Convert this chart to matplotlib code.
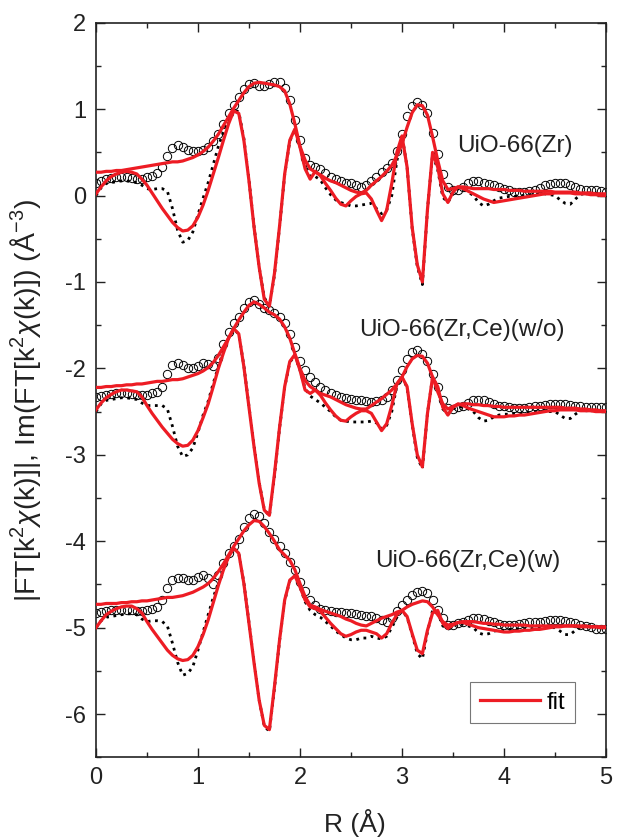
import numpy as np
import matplotlib
matplotlib.use('Agg')
import matplotlib.pyplot as plt
from matplotlib.ticker import MultipleLocator

plt.rcParams['font.family'] = ['Liberation Sans', 'DejaVu Sans']
plt.rcParams['mathtext.fontset'] = 'custom'
plt.rcParams['mathtext.rm'] = 'Liberation Sans'
plt.rcParams['mathtext.it'] = 'Liberation Sans:italic'
plt.rcParams['axes.unicode_minus'] = False

# R grid (Angstrom), 0.05 step
r = np.round(np.arange(101) * 0.05, 2)

sample_names = ['UiO-66(Zr)', 'UiO-66(Zr,Ce)(w/o)', 'UiO-66(Zr,Ce)(w)']
offsets = [0.0, -2.5, -5.0]

# ---------------- UiO-66(Zr) ----------------
zr_mag_data = [
    0.15, 0.17, 0.19, 0.20, 0.21, 0.21, 0.21, 0.20, 0.19, 0.19,
    0.21, 0.23, 0.26, 0.33, 0.46, 0.55, 0.58, 0.56, 0.53, 0.52,
    0.52, 0.53, 0.56, 0.63, 0.71, 0.83, 0.95, 1.05, 1.14, 1.23,
    1.29, 1.30, 1.27, 1.27, 1.29, 1.31, 1.31, 1.25, 1.10, 0.87,
    0.64, 0.44, 0.35, 0.33, 0.31, 0.26, 0.22, 0.19, 0.17, 0.15,
    0.14, 0.12, 0.10, 0.12, 0.17, 0.22, 0.27, 0.32, 0.38, 0.52,
    0.71, 0.92, 1.04, 1.08, 1.05, 0.95, 0.72, 0.48, 0.25, 0.10,
    0.06, 0.07, 0.10, 0.14, 0.17, 0.17, 0.15, 0.13, 0.12, 0.10,
    0.08, 0.06, 0.04, 0.04, 0.04, 0.05, 0.06, 0.09, 0.12, 0.13,
    0.14, 0.14, 0.14, 0.12, 0.10, 0.08, 0.06, 0.06, 0.06, 0.05,
    0.04]
zr_mag_fit = [
    0.27, 0.27, 0.28, 0.28, 0.29, 0.29, 0.30, 0.31, 0.32, 0.33,
    0.34, 0.35, 0.36, 0.37, 0.38, 0.39, 0.39, 0.40, 0.42, 0.44,
    0.47, 0.51, 0.56, 0.63, 0.71, 0.81, 0.91, 1.01, 1.10, 1.19,
    1.26, 1.30, 1.31, 1.30, 1.29, 1.28, 1.26, 1.21, 1.06, 0.83,
    0.57, 0.41, 0.31, 0.27, 0.24, 0.20, 0.17, 0.15, 0.12, 0.09,
    0.06, 0.04, 0.03, 0.06, 0.12, 0.17, 0.22, 0.28, 0.35, 0.46,
    0.60, 0.79, 0.96, 1.05, 1.04, 0.93, 0.68, 0.41, 0.17, 0.07,
    0.08, 0.10, 0.10, 0.09, 0.08, 0.08, 0.08, 0.08, 0.07, 0.07,
    0.07, 0.06, 0.06, 0.06, 0.05, 0.05, 0.05, 0.05, 0.05, 0.05,
    0.04, 0.04, 0.04, 0.04, 0.04, 0.03, 0.03, 0.03, 0.02, 0.02,
    0.02]
zr_im_data = [
    0.00, 0.09, 0.14, 0.15, 0.16, 0.17, 0.17, 0.16, 0.15, 0.12,
    0.08, 0.07, 0.08, 0.08, 0.05, -0.15, -0.40, -0.54, -0.52, -0.42,
    -0.22, -0.03, 0.15, 0.36, 0.57, 0.74, 0.88, 0.99, 0.97, 0.66,
    0.18, -0.36, -0.83, -1.18, -1.28, -0.92, -0.36, 0.24, 0.63, 0.76,
    0.57, 0.33, 0.22, 0.22, 0.18, 0.09, 0.01, -0.05, -0.08, -0.10,
    -0.12, -0.12, -0.11, -0.10, -0.09, -0.15, -0.21, -0.17, 0.00, 0.40,
    0.70, 0.33, -0.38, -0.82, -1.03, -0.16, 0.48, 0.30, -0.02, -0.08,
    0.02, 0.08, 0.07, 0.04, 0.00, -0.08, -0.12, -0.10, -0.06, -0.03,
    -0.02, -0.01, -0.01, 0.00, 0.00, 0.01, 0.02, 0.02, 0.02, 0.01,
    0.00, -0.05, -0.09, -0.10, -0.04, 0.01, 0.03, 0.03, 0.03, 0.01,
    0.00]
zr_im_fit = [
    0.02, 0.10, 0.17, 0.22, 0.25, 0.27, 0.28, 0.27, 0.25, 0.19,
    0.12, 0.03, -0.06, -0.15, -0.23, -0.31, -0.37, -0.41, -0.40, -0.35,
    -0.25, -0.11, 0.06, 0.25, 0.44, 0.64, 0.83, 0.98, 0.95, 0.64,
    0.17, -0.37, -0.83, -1.20, -1.28, -0.90, -0.35, 0.25, 0.64, 0.77,
    0.56, 0.31, 0.19, 0.28, 0.23, 0.14, 0.06, -0.03, -0.10, -0.12,
    -0.06, -0.01, 0.02, 0.03, -0.04, -0.17, -0.29, -0.17, 0.14, 0.50,
    0.69, 0.33, -0.37, -0.80, -1.00, -0.16, 0.50, 0.33, 0.02, -0.08,
    0.04, 0.10, 0.08, 0.05, 0.02, -0.01, -0.04, -0.06, -0.08, -0.07,
    -0.06, -0.05, -0.04, -0.03, -0.02, -0.01, 0.00, 0.01, 0.02, 0.02,
    0.03, 0.03, 0.03, 0.03, 0.02, 0.02, 0.02, 0.01, 0.01, 0.00,
    0.00]

# ---------------- UiO-66(Zr,Ce)(w/o) ----------------
wo_mag_data = [
    0.17, 0.18, 0.19, 0.20, 0.21, 0.21, 0.21, 0.20, 0.19, 0.19,
    0.19, 0.21, 0.23, 0.29, 0.44, 0.54, 0.56, 0.54, 0.51, 0.51,
    0.53, 0.56, 0.55, 0.53, 0.62, 0.78, 0.92, 1.02, 1.10, 1.20,
    1.27, 1.29, 1.24, 1.20, 1.17, 1.14, 1.10, 1.02, 0.90, 0.75,
    0.59, 0.48, 0.40, 0.34, 0.29, 0.25, 0.21, 0.19, 0.17, 0.16,
    0.15, 0.14, 0.13, 0.12, 0.11, 0.12, 0.13, 0.17, 0.25, 0.36,
    0.48, 0.61, 0.69, 0.71, 0.67, 0.58, 0.44, 0.29, 0.13, 0.04,
    0.03, 0.05, 0.07, 0.10, 0.13, 0.14, 0.13, 0.11, 0.09, 0.07,
    0.06, 0.05, 0.04, 0.04, 0.04, 0.05, 0.06, 0.07, 0.08, 0.09,
    0.09, 0.09, 0.09, 0.08, 0.07, 0.06, 0.05, 0.05, 0.05, 0.05,
    0.05]
wo_mag_fit = [
    0.28, 0.28, 0.29, 0.29, 0.30, 0.30, 0.31, 0.31, 0.32, 0.32,
    0.33, 0.34, 0.35, 0.35, 0.36, 0.37, 0.37, 0.38, 0.40, 0.42,
    0.44, 0.47, 0.51, 0.57, 0.65, 0.75, 0.85, 0.96, 1.06, 1.15,
    1.23, 1.27, 1.24, 1.20, 1.15, 1.12, 1.07, 0.98, 0.85, 0.67,
    0.50, 0.36, 0.29, 0.25, 0.21, 0.19, 0.17, 0.14, 0.11, 0.08,
    0.06, 0.04, 0.03, 0.03, 0.07, 0.11, 0.15, 0.20, 0.25, 0.32,
    0.40, 0.52, 0.61, 0.65, 0.64, 0.56, 0.40, 0.23, 0.09, 0.03,
    0.06, 0.08, 0.09, 0.09, 0.08, 0.08, 0.07, 0.07, 0.06, 0.06,
    0.05, 0.05, 0.05, 0.05, 0.05, 0.05, 0.05, 0.05, 0.05, 0.05,
    0.05, 0.05, 0.04, 0.04, 0.04, 0.03, 0.03, 0.02, 0.02, 0.01,
    0.01]
wo_im_data = [
    0.00, 0.09, 0.13, 0.14, 0.15, 0.16, 0.16, 0.15, 0.14, 0.10,
    0.07, 0.07, 0.07, 0.07, 0.03, -0.17, -0.40, -0.52, -0.50, -0.42,
    -0.24, -0.04, 0.12, 0.33, 0.52, 0.71, 0.85, 0.95, 0.90, 0.53,
    0.06, -0.40, -0.82, -1.13, -1.21, -0.74, -0.19, 0.28, 0.57, 0.65,
    0.48, 0.27, 0.18, 0.14, 0.10, 0.05, 0.00, -0.06, -0.10, -0.11,
    -0.12, -0.12, -0.12, -0.12, -0.11, -0.13, -0.20, -0.16, 0.00, 0.30,
    0.40, 0.28, -0.15, -0.53, -0.66, -0.02, 0.40, 0.28, 0.03, -0.03,
    0.03, 0.06, 0.05, 0.03, 0.00, -0.07, -0.11, -0.10, -0.06, -0.04,
    -0.03, -0.03, -0.02, -0.02, -0.02, -0.01, 0.00, 0.00, 0.00, 0.00,
    0.00, -0.04, -0.08, -0.08, -0.03, 0.01, 0.02, 0.02, 0.01, 0.00,
    0.00]
wo_im_fit = [
    0.02, 0.10, 0.16, 0.20, 0.23, 0.25, 0.25, 0.24, 0.23, 0.17,
    0.07, -0.02, -0.10, -0.18, -0.25, -0.32, -0.37, -0.40, -0.39, -0.33,
    -0.22, -0.07, 0.09, 0.29, 0.50, 0.68, 0.85, 0.96, 0.90, 0.52,
    0.05, -0.41, -0.83, -1.14, -1.20, -0.72, -0.18, 0.29, 0.58, 0.66,
    0.48, 0.25, 0.21, 0.25, 0.19, 0.10, 0.02, -0.05, -0.10, -0.11,
    -0.06, -0.02, 0.01, 0.01, -0.02, -0.12, -0.22, -0.14, 0.07, 0.32,
    0.40, 0.29, -0.14, -0.50, -0.64, -0.02, 0.40, 0.29, 0.05, -0.04,
    0.05, 0.09, 0.07, 0.04, 0.02, 0.00, -0.02, -0.04, -0.06, -0.06,
    -0.06, -0.05, -0.05, -0.04, -0.04, -0.03, -0.02, -0.01, 0.00, 0.01,
    0.01, 0.02, 0.02, 0.02, 0.02, 0.01, 0.01, 0.01, 0.00, 0.00,
    0.00]

# ---------------- UiO-66(Zr,Ce)(w) ----------------
w_mag_data = [
    0.17, 0.18, 0.19, 0.20, 0.20, 0.21, 0.21, 0.20, 0.19, 0.19,
    0.20, 0.22, 0.24, 0.32, 0.46, 0.55, 0.58, 0.57, 0.55, 0.55,
    0.59, 0.61, 0.57, 0.51, 0.61, 0.75, 0.86, 0.94, 1.03, 1.17,
    1.27, 1.31, 1.29, 1.21, 1.11, 1.03, 0.94, 0.86, 0.76, 0.67,
    0.53, 0.42, 0.32, 0.26, 0.22, 0.20, 0.19, 0.18, 0.18, 0.17,
    0.17, 0.16, 0.15, 0.14, 0.13, 0.11, 0.09, 0.06, 0.11, 0.19,
    0.26, 0.32, 0.38, 0.41, 0.42, 0.40, 0.32, 0.20, 0.11, 0.03,
    0.03, 0.05, 0.07, 0.09, 0.11, 0.11, 0.10, 0.08, 0.06, 0.04,
    0.03, 0.03, 0.03, 0.04, 0.05, 0.06, 0.07, 0.07, 0.08, 0.09,
    0.09, 0.09, 0.08, 0.07, 0.05, 0.03, 0.02, 0.01, -0.01, -0.01,
    -0.01]
w_mag_fit = [
    0.27, 0.27, 0.28, 0.28, 0.28, 0.29, 0.29, 0.30, 0.30, 0.31,
    0.31, 0.32, 0.33, 0.34, 0.35, 0.35, 0.36, 0.37, 0.39, 0.41,
    0.44, 0.47, 0.51, 0.57, 0.65, 0.74, 0.84, 0.94, 1.03, 1.12,
    1.19, 1.24, 1.23, 1.17, 1.09, 1.00, 0.90, 0.84, 0.78, 0.67,
    0.51, 0.36, 0.26, 0.24, 0.21, 0.19, 0.17, 0.15, 0.13, 0.10,
    0.08, 0.05, 0.03, 0.02, 0.05, 0.08, 0.11, 0.13, 0.15, 0.18,
    0.20, 0.24, 0.27, 0.29, 0.31, 0.30, 0.24, 0.15, 0.07, 0.03,
    0.04, 0.06, 0.07, 0.07, 0.07, 0.06, 0.05, 0.05, 0.04, 0.04,
    0.03, 0.03, 0.03, 0.03, 0.03, 0.02, 0.02, 0.02, 0.02, 0.02,
    0.02, 0.02, 0.02, 0.02, 0.02, 0.01, 0.01, 0.01, 0.01, 0.01,
    0.01]
w_im_data = [
    0.00, 0.08, 0.12, 0.13, 0.14, 0.15, 0.16, 0.16, 0.15, 0.10,
    0.07, 0.08, 0.08, 0.07, 0.02, -0.18, -0.40, -0.55, -0.53, -0.45,
    -0.26, -0.05, 0.15, 0.35, 0.52, 0.68, 0.82, 0.92, 0.86, 0.52,
    0.06, -0.40, -0.84, -1.14, -1.20, -0.70, -0.15, 0.31, 0.54, 0.60,
    0.47, 0.30, 0.20, 0.15, 0.12, 0.07, 0.02, -0.04, -0.08, -0.12,
    -0.14, -0.14, -0.12, -0.12, -0.10, -0.12, -0.13, -0.10, 0.00, 0.12,
    0.20, 0.12, -0.08, -0.30, -0.36, -0.05, 0.20, 0.18, 0.02, -0.02,
    0.02, 0.05, 0.04, 0.02, 0.00, -0.06, -0.08, -0.07, -0.04, -0.03,
    -0.03, -0.02, -0.02, -0.02, -0.02, -0.01, -0.01, 0.00, 0.00, 0.00,
    0.00, -0.04, -0.08, -0.08, -0.03, 0.01, 0.02, 0.02, 0.01, 0.00,
    0.00]
w_im_fit = [
    0.00, 0.08, 0.15, 0.19, 0.22, 0.24, 0.25, 0.25, 0.22, 0.17,
    0.07, -0.02, -0.10, -0.18, -0.26, -0.32, -0.36, -0.38, -0.37, -0.32,
    -0.22, -0.08, 0.09, 0.29, 0.49, 0.67, 0.82, 0.92, 0.86, 0.51,
    0.05, -0.41, -0.84, -1.13, -1.18, -0.68, -0.14, 0.32, 0.55, 0.60,
    0.47, 0.32, 0.24, 0.22, 0.19, 0.12, 0.05, -0.01, -0.07, -0.10,
    -0.08, -0.05, -0.03, -0.03, -0.05, -0.07, -0.12, -0.07, 0.05, 0.15,
    0.20, 0.13, -0.07, -0.26, -0.30, -0.03, 0.17, 0.20, 0.05, -0.01,
    0.03, 0.06, 0.06, 0.04, 0.02, 0.00, -0.01, -0.02, -0.03, -0.04,
    -0.05, -0.05, -0.04, -0.04, -0.03, -0.03, -0.02, -0.02, -0.01, 0.00,
    0.01, 0.01, 0.02, 0.02, 0.02, 0.02, 0.02, 0.01, 0.01, 0.00,
    0.00]

samples = [
    (zr_mag_data, zr_mag_fit, zr_im_data, zr_im_fit),
    (wo_mag_data, wo_mag_fit, wo_im_data, wo_im_fit),
    (w_mag_data, w_mag_fit, w_im_data, w_im_fit),
]

# label anchor points (data coords)
label_xy = [(4.11, 0.57), (3.59, -1.55), (3.64, -4.23)]

RED = '#ED1C24'

fig = plt.figure(figsize=(6.2, 8.38), dpi=100)
ax = fig.add_axes([0.1548, 0.0963, 0.8226, 0.8766])

fit_handle = None
for (mag_d, mag_f, im_d, im_f), off in zip(samples, offsets):
    mag_d = np.array(mag_d) + off
    mag_f = np.array(mag_f) + off
    im_d = np.array(im_d) + off
    im_f = np.array(im_f) + off
    ax.plot(r, mag_d, linestyle='none', marker='o', ms=6.0, mfc='none',
            mec='black', mew=0.7, zorder=2)
    ax.plot(r, im_d, color='black', linestyle=':', lw=2.0, zorder=3)
    fit_handle, = ax.plot(r, mag_f, color=RED, lw=2.3, zorder=4, label='fit')
    ax.plot(r, im_f, color=RED, lw=2.3, zorder=4)

for name, (x, y) in zip(sample_names, label_xy):
    ax.text(x, y, name, fontsize=17.5, ha='center', va='center', color='#222222')

ax.set_xlim(0, 5)
ax.set_ylim(-6.5, 2)
ax.xaxis.set_major_locator(MultipleLocator(1))
ax.xaxis.set_minor_locator(MultipleLocator(0.5))
ax.yaxis.set_major_locator(MultipleLocator(1))
ax.yaxis.set_minor_locator(MultipleLocator(0.5))
ax.tick_params(which='both', direction='in', top=True, right=True,
               labelsize=17, width=1.0, colors='#222222')
ax.tick_params(which='major', length=6.5, pad=7)
ax.tick_params(which='minor', length=3.5)
for s in ax.spines.values():
    s.set_linewidth(1.2)
    s.set_color('#222222')

ax.set_xlabel('R (Å)', fontsize=19, color='#222222', va='baseline')
ax.set_ylabel(r'|FT[k$^2$$\chi$(k)]|, Im(FT[k$^2$$\chi$(k)]) (Å$^{-3}$)',
              fontsize=20.5, color='#222222')
ax.yaxis.set_label_coords(-0.104, 0.485)
ax.xaxis.set_label_coords(0.508, -0.1015)

leg = ax.legend(handles=[fit_handle], loc='lower right',
                bbox_to_anchor=(0.939, 0.0467), borderaxespad=0,
                fontsize=17, frameon=True, fancybox=False,
                handlelength=2.55, handletextpad=0.3, borderpad=0.4)
leg.get_frame().set_edgecolor('#555555')
leg.get_frame().set_linewidth(0.8)

fig.savefig('out.png', dpi=100)
